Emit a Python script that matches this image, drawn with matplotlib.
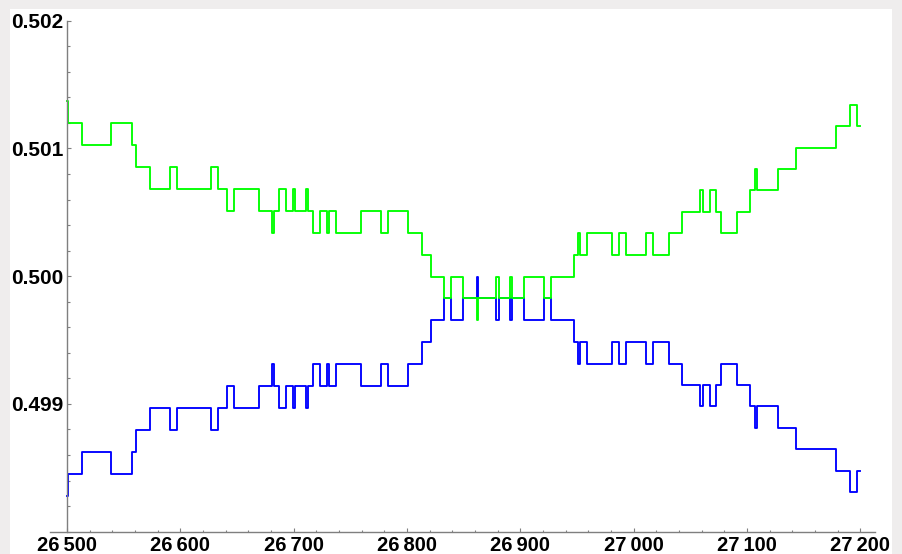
import matplotlib.pyplot as plt
from matplotlib.patches import Rectangle
from matplotlib.ticker import MultipleLocator, FuncFormatter

# step positions (value holds until the next position)
x_steps = [26500, 26501, 26513, 26539, 26557, 26561, 26573, 26591, 26597, 26627,
           26633, 26641, 26647, 26669, 26681, 26683, 26687, 26693, 26699, 26701,
           26711, 26713, 26717, 26723, 26729, 26731, 26737, 26759, 26777, 26783,
           26801, 26813, 26821, 26833, 26839, 26849, 26862, 26863, 26879, 26881,
           26891, 26893, 26903, 26921, 26927, 26947, 26951, 26953, 26959, 26981,
           26987, 26993, 27011, 27017, 27031, 27043, 27059, 27061, 27067, 27073,
           27077, 27091, 27103, 27107, 27109, 27127, 27143, 27179, 27191, 27197,
           27200]

green_vals = [0.501375, 0.501201, 0.501027, 0.501201, 0.501027, 0.500857, 0.500684, 0.500857, 0.500684, 0.500857,
              0.500684, 0.500512, 0.500684, 0.500512, 0.500340, 0.500512, 0.500684, 0.500512, 0.500684, 0.500512,
              0.500684, 0.500512, 0.500340, 0.500512, 0.500340, 0.500512, 0.500340, 0.500512, 0.500340, 0.500512,
              0.500340, 0.500168, 0.499995, 0.499826, 0.499995, 0.499826, 0.499655, 0.499826, 0.499995, 0.499826,
              0.499995, 0.499826, 0.499995, 0.499826, 0.499995, 0.500168, 0.500337, 0.500168, 0.500337, 0.500168,
              0.500337, 0.500168, 0.500337, 0.500168, 0.500337, 0.500504, 0.500671, 0.500504, 0.500671, 0.500504,
              0.500337, 0.500504, 0.500671, 0.500839, 0.500671, 0.500839, 0.501006, 0.501173, 0.501340, 0.501173,
              0.501173]

blue_vals = [0.498277, 0.498451, 0.498625, 0.498451, 0.498625, 0.498795, 0.498968, 0.498795, 0.498968, 0.498795,
             0.498968, 0.499140, 0.498968, 0.499140, 0.499312, 0.499140, 0.498968, 0.499140, 0.498968, 0.499140,
             0.498968, 0.499140, 0.499312, 0.499140, 0.499312, 0.499140, 0.499312, 0.499140, 0.499312, 0.499140,
             0.499312, 0.499484, 0.499657, 0.499826, 0.499657, 0.499826, 0.499997, 0.499826, 0.499657, 0.499826,
             0.499657, 0.499826, 0.499657, 0.499826, 0.499657, 0.499484, 0.499315, 0.499484, 0.499315, 0.499484,
             0.499315, 0.499484, 0.499315, 0.499484, 0.499315, 0.499148, 0.498981, 0.499148, 0.498981, 0.499148,
             0.499315, 0.499148, 0.498981, 0.498813, 0.498981, 0.498813, 0.498646, 0.498479, 0.498312, 0.498479,
             0.498479]

x_major = [26500, 26600, 26700, 26800, 26900, 27000, 27100, 27200]
y_major = [0.499, 0.500, 0.501, 0.502]

W, H = 903, 554
fig = plt.figure(figsize=(W / 100, H / 100), dpi=100, facecolor='#efeded')
# white panel behind the plot
fig.patches.append(Rectangle((10 / W, 0), 882 / W, 545 / H, transform=fig.transFigure,
                             facecolor='white', edgecolor='none', zorder=-10))

ax = fig.add_axes([50 / W, (H - 531.7) / H, 825 / W, 511 / H])
ax.set_facecolor('none')
ax.set_zorder(5)

ax.step(x_steps, blue_vals, where='post', color='#0000ff', lw=1.35)
ax.step(x_steps, green_vals, where='post', color='#00ff00', lw=1.35)

ax.set_xlim(26485, 27213)
ax.set_ylim(0.498, 0.502)

for side in ('top', 'right'):
    ax.spines[side].set_visible(False)
ax.spines['left'].set_position(('data', 26500))
for side in ('left', 'bottom'):
    ax.spines[side].set_color('#7f7f7f')
    ax.spines[side].set_linewidth(1.0)

ax.set_xticks(x_major)
ax.set_yticks(y_major)
ax.xaxis.set_minor_locator(MultipleLocator(20))
ax.yaxis.set_minor_locator(MultipleLocator(0.0002))
ax.xaxis.set_major_formatter(FuncFormatter(lambda v, p: f'{int(round(v)):,}'.replace(',', '\u2009')))
ax.yaxis.set_major_formatter(FuncFormatter(lambda v, p: f'{v:.3f}'))

ax.tick_params(which='both', direction='in', color='#7f7f7f', width=0.8)
ax.tick_params(which='major', length=3.2)
ax.tick_params(which='minor', length=1.8)
ax.tick_params(axis='x', which='major', pad=3)
ax.tick_params(axis='y', which='major', pad=2.5)

for lab in ax.get_xticklabels():
    lab.set_fontfamily(['Liberation Sans', 'DejaVu Sans'])
    lab.set_fontweight('bold')
    lab.set_fontsize(14.5)
for lab in ax.get_yticklabels():
    lab.set_fontfamily(['Liberation Sans', 'DejaVu Sans'])
    lab.set_fontweight('bold')
    lab.set_fontsize(15)

fig.savefig('out.png', dpi=100, facecolor=fig.get_facecolor())
